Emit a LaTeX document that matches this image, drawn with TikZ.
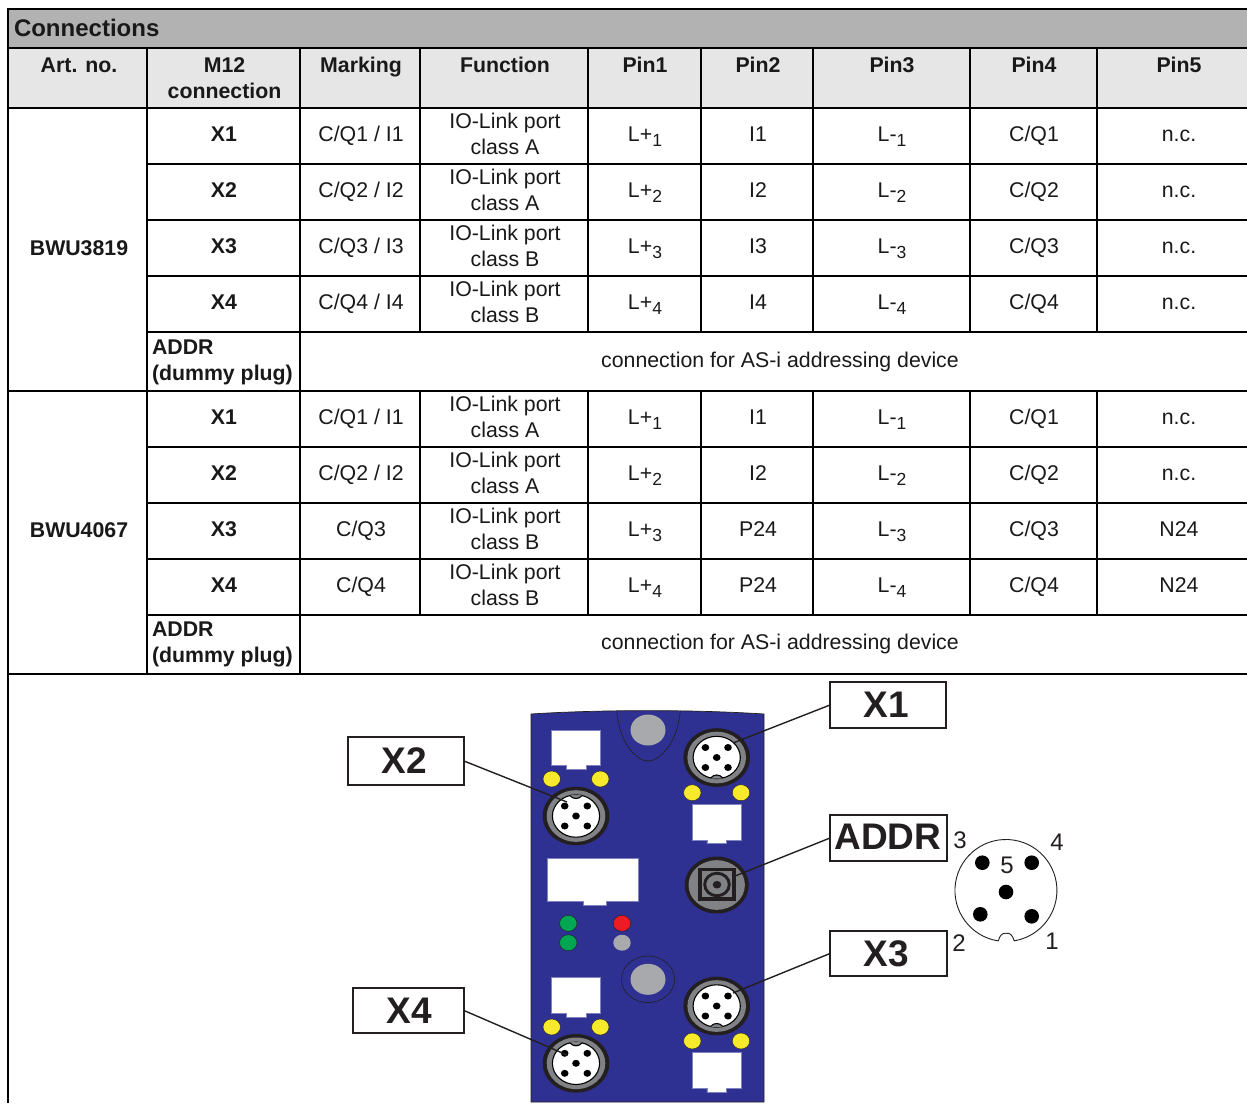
\documentclass[tikz,border=0pt]{standalone}
\usepackage{fontspec}
\setmainfont{Liberation Sans}
\definecolor{titlegrey}{HTML}{B2B2B2}
\definecolor{headgrey}{HTML}{E6E6E6}
\definecolor{ink}{HTML}{231F20}
\definecolor{devblue}{HTML}{2E3191}
\definecolor{ringgrey}{HTML}{808285}
\definecolor{padgrey}{HTML}{A7A9AC}
\definecolor{ledyellow}{HTML}{F7E92B}
\definecolor{ledgreen}{HTML}{00A651}
\definecolor{ledred}{HTML}{ED1C24}
\tikzset{
  grid line/.style={draw=black,line width=1.9pt},
  cell/.style={inner sep=0pt,outer sep=0pt,anchor=center,align=center,font=\fontsize{21.3}{26}\selectfont,text=black!90},
  boldcell/.style={cell,font=\fontsize{21.3}{26}\selectfont\bfseries},
  basecell/.style={cell,anchor=base},
  boldbase/.style={boldcell,anchor=base},
  tag/.style={draw=ink,line width=1.6pt,fill=white,inner sep=0pt,outer sep=0pt,font=\fontsize{37}{37}\selectfont\bfseries,text=ink},
  wire/.style={draw=ink,line width=1.4pt},
  pinnum/.style={inner sep=0pt,outer sep=0pt,font=\fontsize{24}{24}\selectfont,text=ink},
  whitepad/.style={fill=white,draw=devblue!60!white,line width=0.5pt},
  led/.style={draw=ink,line width=0.4pt},
}
\newcommand{\lowidx}[1]{\raisebox{-5pt}{\fontsize{17.5}{17.5}\selectfont #1}}
% one table row: prefix, top y, connector, marking, class, index, pin2, pin5
\newcommand{\tablerow}[8]{%
  \node[boldbase] (#1c) at (224,#2+33.5) {#3};
  \node[basecell] (#1m) at (361,#2+33.5) {#4};
  \node[cell] (#1f) at (505,#2+25.5) {IO-Link port\\class #5};
  \node[basecell] (#1a) at (645,#2+33.5) {L+\lowidx{#6}};
  \node[basecell] (#1b) at (758,#2+33.5) {#7};
  \node[basecell] (#1d) at (892,#2+33.5) {L-\lowidx{#6}};
  \node[basecell] (#1e) at (1034,#2+33.5) {C/Q#6};
  \node[basecell] (#1g) at (1179,#2+33.5) {#8};
}
% round M12 socket: name, x, y, flip (1 = notch below, -1 = notch above)
\newcommand{\socket}[4]{%
  \begin{scope}[shift={(#2,#3)},yscale=#4]
    \fill[fill=ink] (0,0) ellipse [x radius=33.3, y radius=29.3];
    \fill[fill=ringgrey] (0,0) ellipse [x radius=29.3, y radius=25.8];
    \draw[fill=white,draw=black,line width=1.1pt] (0,0) ellipse [x radius=23.6, y radius=21.2];
    \fill[fill=ringgrey] (-6,20.4) .. controls (-3,16.5) and (3,16.5) .. (6,20.4) -- (5,21.2) -- (-5,21.2) -- cycle;
    \draw[black,line width=1.1pt] (-6,20.4) .. controls (-3,16.5) and (3,16.5) .. (6,20.4);
    \foreach \dx/\dy in {-11.3/-10,11.3/-10,0/0,-11.3/10,11.3/10}
      \fill[black] (\dx,\dy) ellipse [x radius=3.8, y radius=3.5];
  \end{scope}%
}
\newcommand{\rjpad}[4]{% left, top, right, bottom
  \path[whitepad] (#1,#2) -- (#3,#2) -- (#3,#4) -- ({(#1+#3)/2+9.8},#4) -- ({(#1+#3)/2+9.8},#4+3.7)
     -- ({(#1+#3)/2-9.8},#4+3.7) -- ({(#1+#3)/2-9.8},#4) -- (#1,#4) -- cycle;
}
\newcommand{\ledpair}[3]{% x1,x2,y
  \draw[led,fill=ledyellow] (#1,#3) ellipse [x radius=8.7, y radius=8];
  \draw[led,fill=ledyellow] (#2,#3) ellipse [x radius=8.7, y radius=8];
}
\begin{document}
\begin{tikzpicture}[x=1pt,y=-1pt]
\useasboundingbox (0,0) rectangle (1247,1103);
\fill[white] (0,0) rectangle (1247,1103);
% header backgrounds
\fill[titlegrey] (8,9) rectangle (1247,48);
\fill[headgrey] (8,48) rectangle (1247,108);
% horizontal rules
\foreach \yy in {9,48,108,391,674}
  \draw[grid line] (7,\yy) -- (1247,\yy);
\foreach \yy in {164,220,276,332,447,503,559,615}
  \draw[grid line] (147,\yy) -- (1247,\yy);
% vertical rules
\draw[grid line] (8,8) -- (8,1103);
\foreach \xx in {147,300}
  \draw[grid line] (\xx,48) -- (\xx,674);
\foreach \xx in {420,588,701,813,970,1097}{
  \draw[grid line] (\xx,48) -- (\xx,332);
  \draw[grid line] (\xx,391) -- (\xx,615);
}
% header text
\node[boldbase,anchor=base west] (title) at (14,36) {\fontsize{24}{26}\selectfont Connections};
\node[boldbase] (h1) at (79,72.5) {Art. no.};
\node[boldcell] (h2) at (224.5,78) {M12\\connection};
\node[boldbase] (h3) at (361,72.5) {Marking};
\node[boldbase] (h4) at (505,72.5) {Function};
\node[boldbase] (h5) at (645,72.5) {Pin1};
\node[boldbase] (h6) at (758,72.5) {Pin2};
\node[boldbase] (h7) at (892,72.5) {Pin3};
\node[boldbase] (h8) at (1034,72.5) {Pin4};
\node[boldbase] (h9) at (1179,72.5) {Pin5};
% first block
\node[boldbase] (artA) at (79,255.5) {BWU3819};
\tablerow{ra}{108}{X1}{C/Q1 / I1}{A}{1}{I1}{n.c.}
\tablerow{rb}{164}{X2}{C/Q2 / I2}{A}{2}{I2}{n.c.}
\tablerow{rc}{220}{X3}{C/Q3 / I3}{B}{3}{I3}{n.c.}
\tablerow{rd}{276}{X4}{C/Q4 / I4}{B}{4}{I4}{n.c.}
\node[boldcell,anchor=west,align=left] (addrA) at (152,362) {ADDR\\(dummy plug)};
\node[basecell] (asiA) at (780,367.5) {connection for AS-i addressing device};
% second block
\node[boldbase] (artB) at (79,537.5) {BWU4067};
\tablerow{sa}{391}{X1}{C/Q1 / I1}{A}{1}{I1}{n.c.}
\tablerow{sb}{447}{X2}{C/Q2 / I2}{A}{2}{I2}{n.c.}
\tablerow{sc}{503}{X3}{C/Q3}{B}{3}{P24}{N24}
\tablerow{sd}{559}{X4}{C/Q4}{B}{4}{P24}{N24}
\node[boldcell,anchor=west,align=left] (addrB) at (152,644.5) {ADDR\\(dummy plug)};
\node[basecell] (asiB) at (780,649.5) {connection for AS-i addressing device};
% device body
\fill[devblue] (531,714) .. controls (600,709.5) and (695,709.5) .. (764,714) -- (764,1102) -- (531,1102) -- cycle;
\draw[ink,line width=0.7pt] (531,1102) -- (531,714) .. controls (600,709.5) and (695,709.5) .. (764,714) -- (764,1102) -- cycle;
% mounting holes
\draw[ink,line width=0.6pt] (616.7,710.7) .. controls (619,742) and (636,761) .. (648,761) .. controls (660,761) and (678,742) .. (680.3,710.7);
\fill[padgrey] (648,730) ellipse [x radius=17.5, y radius=15.5];
\draw[ink,line width=0.6pt] (648,979.3) ellipse [x radius=26.5, y radius=23.3];
\fill[padgrey] (648,979.3) ellipse [x radius=17.5, y radius=15.5];
% labelling pads
\rjpad{551.7}{730}{600.3}{765.7}
\rjpad{692.3}{804.7}{741}{840}
\rjpad{551.7}{977.7}{600.3}{1013.3}
\rjpad{692.3}{1052.7}{741}{1088.3}
\path[whitepad] (547.3,858.7) -- (638.3,858.7) -- (638.3,901.3) -- (606.7,901.3) -- (606.7,905.7) -- (583,905.7) -- (583,901.3) -- (547.3,901.3) -- cycle;
% LEDs
\ledpair{551.7}{600.3}{779}
\ledpair{692.3}{741}{792.7}
\ledpair{551.7}{600.3}{1027}
\ledpair{692.3}{741}{1041}
\draw[led,fill=ledgreen] (568.3,923.3) ellipse [x radius=8.7, y radius=8];
\draw[led,fill=ledgreen] (568.3,942.7) ellipse [x radius=8.7, y radius=8];
\draw[led,fill=ledred] (622,923.3) ellipse [x radius=8.7, y radius=8];
\fill[padgrey] (622,942.7) ellipse [x radius=8.7, y radius=8];
% sockets
\socket{x1}{716.7}{757.5}{1}
\socket{x2}{576}{816}{-1}
\socket{x3}{716.7}{1006}{1}
\socket{x4}{576}{1063.3}{-1}
% addressing socket
\fill[ink] (716.7,885) ellipse [x radius=32, y radius=28.5];
\fill[ringgrey] (716.7,885) ellipse [x radius=28.2, y radius=24.8];
\draw[ink,line width=3.6pt] (700,869.3) rectangle (734.2,898.7);
\draw[ink,line width=2.9pt] (717,884.5) ellipse [x radius=12.3, y radius=11.3];
\fill[ink] (717,884.7) ellipse [x radius=4.3, y radius=3.8];
% connector ends
\coordinate (x1end) at (733,743);
\coordinate (x2end) at (567,802);
\coordinate (x3end) at (733,993);
\coordinate (x4end) at (567,1055);
\coordinate (addrend) at (735,876);
% tags
\node[tag,minimum width=116pt,minimum height=46pt] (X1) at (888,705) {\raisebox{1pt}{\hspace*{-4pt}X1}};
\node[tag,minimum width=116pt,minimum height=48pt] (X2) at (406,761) {\raisebox{1.5pt}{\hspace*{-3pt}X2}};
\node[tag,minimum width=117pt,minimum height=46pt] (ADDR) at (888.5,838) {\raisebox{2pt}{\hspace*{-1pt}ADDR}};
\node[tag,minimum width=117pt,minimum height=45pt] (X3) at (888.5,953.5) {\raisebox{0.5pt}{\hspace*{-4pt}X3}};
\node[tag,minimum width=111pt,minimum height=45pt] (X4) at (408.5,1010.5) {\raisebox{-0.5pt}{\hspace*{1pt}X4}};
\draw[wire] (X1.west) -- (x1end);
\draw[wire] (X2.east) -- (x2end);
\draw[wire] (ADDR.west) -- (addrend);
\draw[wire] (X3.west) -- (x3end);
\draw[wire] (X4.east) -- (x4end);
% pin diagram
\draw[ink,line width=0.9pt] (998.3,940.9) arc [start angle=98.6, end angle=440.7, radius=51]
  .. controls (1012,934) and (1010,933.2) .. (1006,933.2) .. controls (1002,933.2) and (1000,935) .. (998.3,940.9);
\foreach \px/\py in {982.3/862.7,1031.7/862.7,1006/892,980.3/914.3,1031.7/916.3}
  \fill[black] (\px,\py) circle [radius=7.3];
\node[pinnum] (n3) at (960,840) {3};
\node[pinnum] (n4) at (1057,842.5) {4};
\node[pinnum] (n5) at (1007,865.7) {5};
\node[pinnum] (n2) at (959,942.7) {2};
\node[pinnum] (n1) at (1052,941.7) {1};
\end{tikzpicture}
\end{document}
